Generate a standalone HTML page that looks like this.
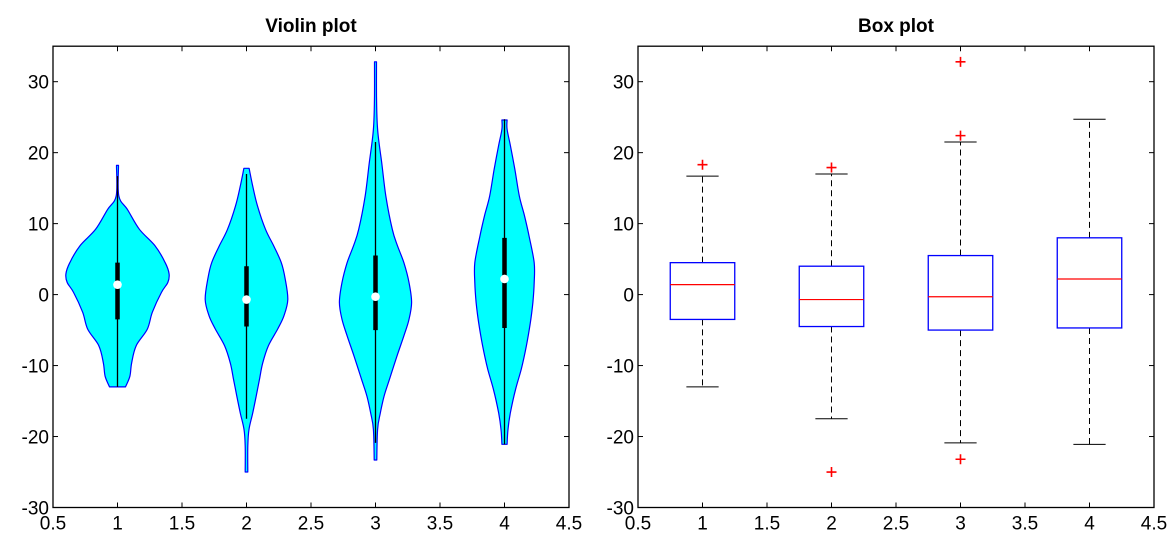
<!DOCTYPE html>
<html><head><meta charset="utf-8"><style>
html,body{margin:0;padding:0;background:#fff;}
svg{display:block;font-family:"Liberation Sans",Arial,sans-serif;}
</style></head><body>
<svg id="fig" width="1170" height="544" viewBox="0 0 1170 544"></svg>
<script>
// ---- data ----
const categories=[1,2,3,4];
const xTicks=[0.5,1,1.5,2,2.5,3,3.5,4,4.5];
const xTickLabels=["0.5","1","1.5","2","2.5","3","3.5","4","4.5"];
const yTicks=[-30,-20,-10,0,10,20,30];
const yTickLabels=["-30","-20","-10","0","10","20","30"];
// violin density profiles: values (y) and half-widths (x units)
const v1Y=[18.2,13.9,12,9.2,6.9,4.5,2.9,1.7,0.3,-2.5,-4.9,-7.2,-9.6,-11.5,-13.0];
const v1W=[0.008,0.01,0.077,0.17,0.29,0.37,0.40,0.39,0.34,0.27,0.23,0.145,0.11,0.096,0.062];
const v2Y=[17.8,15.3,12.5,9.2,6.9,4.5,2.2,-0.7,-3.0,-4.9,-7.2,-9.6,-12.0,-14.3,-16.7,-19.0,-21.4,-25.0];
const v2W=[0.02,0.048,0.085,0.147,0.21,0.27,0.30,0.32,0.29,0.24,0.17,0.126,0.10,0.075,0.048,0.019,0.01,0.01];
const v3Y=[32.8,28.0,23.3,18.6,13.9,9.2,6.9,4.5,1.7,-1.1,-3.5,-5.8,-8.7,-12.0,-14.3,-16.7,-19.0,-23.3];
const v3W=[0.008,0.008,0.016,0.048,0.08,0.13,0.17,0.22,0.26,0.28,0.26,0.22,0.166,0.107,0.067,0.037,0.016,0.01];
const v4Y=[24.6,23.3,21.0,17.7,13.9,11.1,8.3,4.5,1.7,-1.1,-4.0,-7.2,-10.5,-13.4,-16.7,-19.0,-21.1];
const v4W=[0.02,0.02,0.046,0.08,0.115,0.155,0.19,0.23,0.23,0.22,0.20,0.17,0.13,0.085,0.045,0.027,0.02];
// box statistics
const q1=[-3.5,-4.5,-5.0,-4.7];
const medians=[1.4,-0.7,-0.3,2.2];
const q3=[4.5,4.0,5.5,8.0];
const whiskLo=[-13.0,-17.5,-20.9,-21.1];
const whiskHi=[16.7,17.0,21.5,24.7];
const outlierX=[1,2,2,3,3,3];
const outlierY=[18.3,17.9,-25.0,32.8,22.4,-23.2];

const NS="http://www.w3.org/2000/svg";
const svg=document.getElementById('fig');
function mk(tag,attrs,parent){const e=document.createElementNS(NS,tag);for(const k in attrs)e.setAttribute(k,attrs[k]);(parent||svg).appendChild(e);return e;}
const TOP=46.2,BOT=507.5,W=516,FS=19;
function ymap(v){return BOT-(v+30)*(BOT-TOP)/65;}
function mkX(left){return v=>left+(v-0.5)*W/4;}

function smooth(p){ // catmull-rom through points p=[[x,y],...]
  let d=`M${p[0][0].toFixed(1)},${p[0][1].toFixed(1)}`;
  for(let i=0;i<p.length-1;i++){
    const p0=p[Math.max(0,i-1)],p1=p[i],p2=p[i+1],p3=p[Math.min(p.length-1,i+2)];
    const c1=[p1[0]+(p2[0]-p0[0])/6,p1[1]+(p2[1]-p0[1])/6];
    const c2=[p2[0]-(p3[0]-p1[0])/6,p2[1]-(p3[1]-p1[1])/6];
    d+=`C${c1[0].toFixed(1)},${c1[1].toFixed(1)} ${c2[0].toFixed(1)},${c2[1].toFixed(1)} ${p2[0].toFixed(1)},${p2[1].toFixed(1)}`;
  }
  return d;
}

function axes(left,title,name){
  const g=mk('g',{});
  
  
  const x=mkX(left);
  const t=mk('text',{x:left+W/2,y:32,'text-anchor':'middle','font-size':FS,'font-weight':'bold'},g);
  t.textContent=title;
  
  
  xTicks.forEach((v,i)=>{
    mk('line',{x1:x(v),x2:x(v),y1:BOT,y2:BOT-5,stroke:'#000'},g);
    mk('line',{x1:x(v),x2:x(v),y1:TOP,y2:TOP+5,stroke:'#000'},g);
    const l=mk('text',{x:x(v),y:BOT+22,'text-anchor':'middle','font-size':FS},g);
    l.textContent=xTickLabels[i];
    
    
  });
  yTicks.forEach((v,i)=>{
    mk('line',{x1:left,x2:left+5,y1:ymap(v),y2:ymap(v),stroke:'#000'},g);
    mk('line',{x1:left+W,x2:left+W-5,y1:ymap(v),y2:ymap(v),stroke:'#000'},g);
    const l=mk('text',{x:left-4,y:ymap(v)+7,'text-anchor':'end','font-size':FS},g);
    l.textContent=yTickLabels[i];
    
    
  });
  return {g,x};
}

// ---- violin plot ----
const A=axes(53,'Violin plot','violin-axes');
const vy=[v1Y,v2Y,v3Y,v4Y],vw=[v1W,v2W,v3W,v4W];
categories.forEach((c,i)=>{
  const x=A.x;
  const right=vy[i].map((y,j)=>[x(c+vw[i][j]),ymap(y)]);
  const left=vy[i].map((y,j)=>[x(c-vw[i][j]),ymap(y)]).reverse();
  const d=smooth(right)+'L'+smooth(left).slice(1)+'Z';
  const p=mk('path',{d:d,fill:'#00ffff',stroke:'#0000ff','stroke-width':1.2,'stroke-linejoin':'round'});
  
  
  const w=mk('line',{x1:x(c),x2:x(c),y1:ymap(whiskLo[i]),y2:ymap(whiskHi[i]),stroke:'#000','stroke-width':1.3});
  
  
  const b=mk('line',{x1:x(c),x2:x(c),y1:ymap(q1[i]),y2:ymap(q3[i]),stroke:'#000','stroke-width':4.5});
  
  
  const dot=mk('circle',{cx:x(c),cy:ymap(medians[i]),r:4.3,fill:'#fff'});
  
  
});
mk('rect',{x:53,y:TOP,width:W,height:BOT-TOP,fill:'none',stroke:'#000','stroke-width':1.3});

// ---- box plot ----
const B=axes(638,'Box plot','box-axes');
categories.forEach((c,i)=>{
  const x=B.x;
  mk('line',{x1:x(c),x2:x(c),y1:ymap(q3[i]),y2:ymap(whiskHi[i]),stroke:'#000','stroke-dasharray':'6,4'});
  mk('line',{x1:x(c),x2:x(c),y1:ymap(q1[i]),y2:ymap(whiskLo[i]),stroke:'#000','stroke-dasharray':'6,4'});
  const ch=mk('line',{x1:x(c-0.125),x2:x(c+0.125),y1:ymap(whiskHi[i]),y2:ymap(whiskHi[i]),stroke:'#000'});
  
  
  const cl=mk('line',{x1:x(c-0.125),x2:x(c+0.125),y1:ymap(whiskLo[i]),y2:ymap(whiskLo[i]),stroke:'#000'});
  
  
  const r=mk('rect',{x:x(c-0.25),y:ymap(q3[i]),width:x(c+0.25)-x(c-0.25),height:ymap(q1[i])-ymap(q3[i]),fill:'none',stroke:'#0000ff','stroke-width':1.3});
  
  
  const m=mk('line',{x1:x(c-0.25),x2:x(c+0.25),y1:ymap(medians[i]),y2:ymap(medians[i]),stroke:'#ff0000','stroke-width':1.2});
  
  
});
outlierX.forEach((c,i)=>{
  const x=B.x(c),y=ymap(outlierY[i]);
  const o=mk('path',{d:`M${x-5},${y}H${x+5}M${x},${y-5}V${y+5}`,stroke:'#ff0000','stroke-width':1.6});
  
  
});
mk('rect',{x:638,y:TOP,width:W,height:BOT-TOP,fill:'none',stroke:'#000','stroke-width':1.3});
</script>
</body></html>
